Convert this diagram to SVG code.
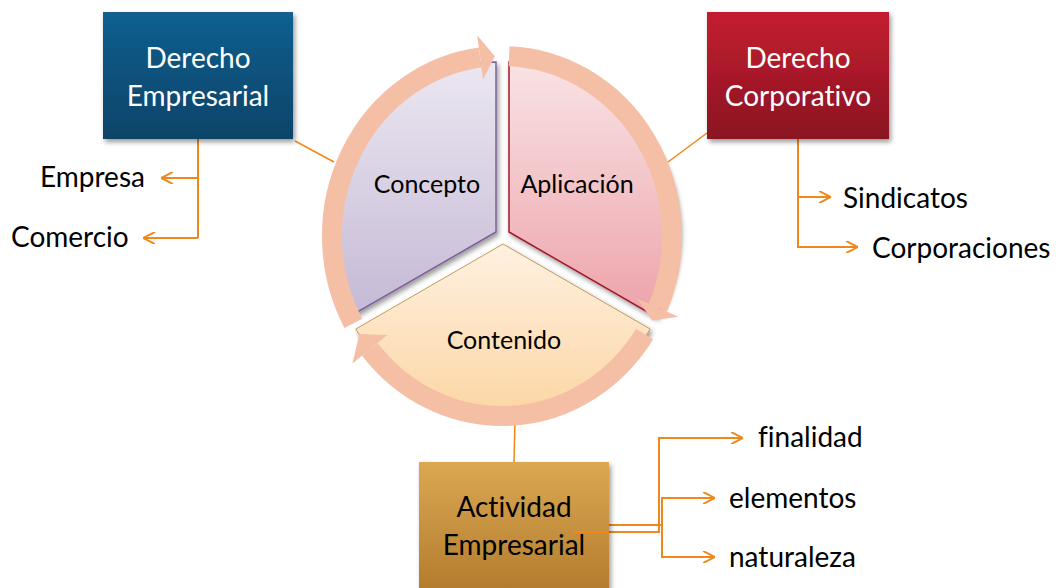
<svg xmlns="http://www.w3.org/2000/svg" width="1056" height="588" viewBox="0 0 1056 588">
<defs>
<style>
text{font-variant-ligatures:none}
.lbl{font-family:Lato,"Open Sans","Liberation Sans",sans-serif;font-size:28px;fill:#000}
.box{font-family:Lato,"Open Sans","Liberation Sans",sans-serif;font-size:28px;text-anchor:middle}
.pie{font-family:Lato,"Open Sans","Liberation Sans",sans-serif;font-size:25px;text-anchor:middle;fill:#000}
.con{fill:none;stroke:#f0871a;stroke-width:2}
.thin{fill:none;stroke:#f0871a;stroke-width:1.5}
.ring{fill:none;stroke:#f5bfa6;stroke-width:20}
.head{fill:#f5bfa6}
</style>
<linearGradient id="gBlue" x1="0" y1="0" x2="0" y2="1"><stop offset="0" stop-color="#125f8f"/><stop offset="1" stop-color="#0a4468"/></linearGradient>
<linearGradient id="gRed" x1="0" y1="0" x2="0" y2="1"><stop offset="0" stop-color="#c41e31"/><stop offset="1" stop-color="#8a1421"/></linearGradient>
<linearGradient id="gGold" x1="0" y1="0" x2="0" y2="1"><stop offset="0" stop-color="#dba853"/><stop offset="1" stop-color="#b27b2c"/></linearGradient>
<linearGradient id="gCon" x1="0" y1="0" x2="0" y2="1"><stop offset="0" stop-color="#ebe7f1"/><stop offset="1" stop-color="#c5b9d5"/></linearGradient>
<linearGradient id="gApl" x1="0" y1="0" x2="0" y2="1"><stop offset="0" stop-color="#f9e3e5"/><stop offset="1" stop-color="#eda3aa"/></linearGradient>
<linearGradient id="gCnt" x1="0" y1="0" x2="0" y2="1"><stop offset="0" stop-color="#fff1e1"/><stop offset="1" stop-color="#fcd6a4"/></linearGradient>
<filter id="sh" x="-10%" y="-10%" width="130%" height="130%"><feDropShadow dx="2" dy="3" stdDeviation="2.5" flood-color="#000" flood-opacity="0.4"/></filter>
<marker id="chev" viewBox="0 0 12 12" refX="12" refY="6" markerWidth="12" markerHeight="12" markerUnits="userSpaceOnUse" orient="auto"><path d="M0,0 L12,6 L0,12" fill="none" stroke="#f0871a" stroke-width="2"/></marker>
</defs>
<rect width="1056" height="588" fill="#fff"/>

<g id="connectors">
<path class="con" d="M198 139 V238"/>
<path class="con" d="M198 178 H161" marker-end="url(#chev)"/>
<path class="con" d="M198 238 H143" marker-end="url(#chev)"/>
<path class="thin" d="M295 141 L334 162"/>
<path class="thin" d="M707 133 L668 162"/>
<path class="con" d="M798 139 V247 H858" marker-end="url(#chev)"/>
<path class="con" d="M798 197 H831" marker-end="url(#chev)"/>
<path class="thin" d="M515 420 L514 462"/>
<path class="con" d="M608 525 H662 V498 H715" marker-end="url(#chev)"/>
<path class="con" d="M662 525 V557 H715" marker-end="url(#chev)"/>
<path class="con" d="M573 532 H659 V438 H743" marker-end="url(#chev)"/>
</g>

<g id="concepto">
<path d="M496 232 L496 62 A170 170 0 0 0 348.8 317 Z" fill="url(#gCon)" stroke="#7d6198" stroke-width="1.5" filter="url(#sh)"/>
</g>
<g id="aplicacion">
<path d="M509 232 L509 62 A170 170 0 0 1 656.2 317 Z" fill="url(#gApl)" stroke="#a3192b" stroke-width="1.5" filter="url(#sh)"/>
</g>
<g id="contenido">
<path d="M503 244 L650.2 329 A170 170 0 0 1 355.8 329 Z" fill="url(#gCnt)" stroke="#c29a5b" stroke-width="1" filter="url(#sh)"/>
</g>

<g id="ciclo">
<path class="ring" d="M353.3 323.3 A170 180 0 0 1 480.1 57.5"/>
<polygon class="head" points="494.9,56.2 477.2,35.2 483.0,79.8"/>
<path class="ring" d="M509.1 56.2 A170 180 0 0 1 657.9 307.8"/>
<polygon class="head" points="652.1,320.5 678.5,316.7 637.3,298.8"/>
<path class="ring" d="M644.6 334.0 A170 180 0 0 1 369.9 349.3"/>
<polygon class="head" points="359.4,334.0 352.4,363.4 387.4,335.1"/>
</g>

<text class="pie" x="427" y="193">Concepto</text>
<text class="pie" x="577" y="193">Aplicación</text>
<text class="pie" x="504" y="349">Contenido</text>

<g id="derecho-empresarial">
<rect x="103" y="12" width="190" height="127" fill="url(#gBlue)" filter="url(#sh)"/>
<text class="box" x="198" y="68" fill="#fff">Derecho</text>
<text class="box" x="198" y="106" fill="#fff">Empresarial</text>
</g>
<g id="derecho-corporativo">
<rect x="707" y="12" width="182" height="127" fill="url(#gRed)" filter="url(#sh)"/>
<text class="box" x="798" y="68" fill="#fff">Derecho</text>
<text class="box" x="798" y="106" fill="#fff">Corporativo</text>
</g>
<g id="actividad-empresarial">
<rect x="419" y="462" width="190" height="132" fill="url(#gGold)" filter="url(#sh)"/>
<path class="con" d="M573 532 H609"/>
<text class="box" x="514" y="517" fill="#000">Actividad</text>
<text class="box" x="514" y="555" fill="#000">Empresarial</text>
</g>

<g id="empresa"><text class="lbl" x="40" y="187">Empresa</text></g>
<g id="comercio"><text class="lbl" x="11" y="247">Comercio</text></g>
<g id="sindicatos"><text class="lbl" x="843" y="208">Sindicatos</text></g>
<g id="corporaciones"><text class="lbl" x="872" y="258">Corporaciones</text></g>
<g id="finalidad"><text class="lbl" x="758" y="447">finalidad</text></g>
<g id="elementos"><text class="lbl" x="729" y="508">elementos</text></g>
<g id="naturaleza"><text class="lbl" x="729" y="567">naturaleza</text></g>
</svg>
